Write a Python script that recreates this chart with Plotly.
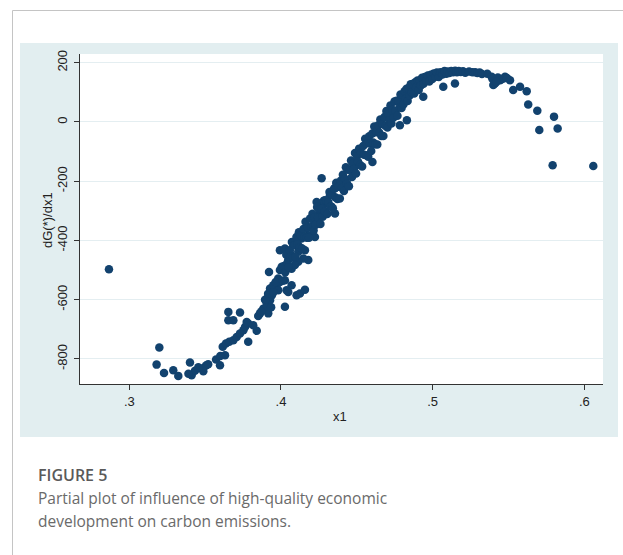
import plotly.graph_objects as go

# ---------------- data ----------------
# (x1, dG(*)/dx1) pairs, grouped by region of the curve
low_tail = [
    (0.2866, -497),
    (0.3198, -761), (0.3180, -819), (0.3229, -847), (0.3290, -838), (0.3323, -857),
    (0.3400, -812), (0.3411, -855), (0.3433, -840), (0.3477, -832), (0.3506, -822),
    (0.3488, -841), (0.3572, -802), (0.3598, -821), (0.3616, -759), (0.3637, -748),
    (0.3631, -787), (0.3659, -742), (0.3686, -737), (0.3708, -726), (0.3730, -714),
    (0.3752, -703), (0.3784, -742), (0.3763, -692), (0.3784, -680), (0.3840, -705),
    (0.3653, -641), (0.3730, -643), (0.3653, -669), (0.3686, -669), (0.3774, -675),
    (0.3817, -686), (0.3862, -646), (0.3884, -630), (0.3906, -613), (0.3928, -602),
    (0.3940, -585), (0.3960, -568), (0.3972, -551), (0.3993, -540), (0.3916, -646),
    (0.4026, -624), (0.4037, -568), (0.4103, -585), (0.4070, -551), (0.3455, -828),
    (0.3520, -818), (0.3390, -850), (0.3600, -790), (0.3906, -624), (0.3916, -590),
    (0.3928, -562), (0.3949, -551), (0.3982, -528), (0.3982, -568), (0.4048, -574),
    (0.4125, -579), (0.4158, -566), (0.3921, -506), (0.3850, -655), (0.3870, -640),
    (0.3895, -600), (0.3915, -580), (0.3950, -575), (0.3965, -540), (0.3935, -625),
]

lower_band = [
    (0.3993, -433), (0.4026, -427), (0.4060, -444), (0.4114, -438), (0.4158, -433),
    (0.4180, -466), (0.4147, -461), (0.4114, -472), (0.4048, -466), (0.4026, -489),
    (0.3993, -500), (0.4070, -495), (0.4092, -483), (0.4026, -534), (0.4103, -405),
    (0.4081, -416), (0.4136, -393), (0.4180, -382), (0.4224, -388), (0.4169, -359),
    (0.4213, -348), (0.4235, -331), (0.4257, -309), (0.4356, -309), (0.4334, -286),
    (0.4279, -281), (0.4235, -270), (0.4290, -264), (0.4323, -247), (0.4356, -224),
    (0.4367, -207), (0.4268, -190),
    (0.4005, -489), (0.4012, -536), (0.4020, -486), (0.4028, -507), (0.4035, -448),
    (0.4042, -475), (0.4050, -490), (0.4058, -433), (0.4065, -456), (0.4072, -405),
    (0.4080, -458), (0.4088, -416), (0.4095, -455), (0.4102, -388), (0.4110, -413),
    (0.4118, -372), (0.4125, -423), (0.4132, -383), (0.4140, -427), (0.4148, -361),
    (0.4155, -387), (0.4162, -337), (0.4170, -391), (0.4178, -355), (0.4185, -391),
    (0.4192, -326), (0.4200, -355), (0.4208, -310), (0.4215, -366), (0.4222, -322),
    (0.4230, -347), (0.4238, -287), (0.4245, -323), (0.4252, -294), (0.4260, -344),
    (0.4268, -294), (0.4275, -320), (0.4282, -266), (0.4290, -301), (0.4298, -266),
    (0.4305, -311), (0.4312, -271), (0.4320, -236), (0.4328, -285), (0.4335, -245),
    (0.4342, -291), (0.4350, -225), (0.4358, -254), (0.4365, -205), (0.4372, -260),
    (0.4380, -219), (0.4388, -258), (0.4395, -198),
]

middle_band = [
    (0.4402, -223), (0.4408, -178), (0.4415, -233), (0.4422, -192), (0.4428, -153),
    (0.4435, -207), (0.4442, -161), (0.4448, -217), (0.4455, -161), (0.4462, -130),
    (0.4468, -186), (0.4475, -140), (0.4482, -159), (0.4488, -105), (0.4495, -174),
    (0.4502, -114), (0.4508, -134), (0.4515, -90), (0.4522, -145), (0.4528, -105),
    (0.4535, -150), (0.4542, -81), (0.4548, -111), (0.4555, -57), (0.4562, -112),
    (0.4568, -72), (0.4575, -117), (0.4582, -48), (0.4588, -73), (0.4595, -98),
    (0.4602, -39), (0.4608, -69), (0.4615, -15), (0.4622, -75), (0.4628, -35),
    (0.4635, -76), (0.4642, -11), (0.4648, -36), (0.4655, 8), (0.4662, -47),
    (0.4668, -7), (0.4675, -47), (0.4682, 17), (0.4688, -13), (0.4695, 37),
    (0.4603, -135),
]

upper_band = [
    (0.4702, -19), (0.4708, 26), (0.4715, 6), (0.4722, 56), (0.4728, -5),
    (0.4735, 40), (0.4742, 15), (0.4748, 69), (0.4755, 38), (0.4762, 72),
    (0.4768, 21), (0.4775, 70), (0.4782, 49), (0.4788, 93), (0.4795, 47),
    (0.4802, 91), (0.4808, 60), (0.4815, 104), (0.4822, 78), (0.4828, 112),
    (0.4835, 71), (0.4842, 115), (0.4848, 89), (0.4855, 127), (0.4862, 100),
    (0.4870, 128), (0.4878, 96), (0.4885, 134), (0.4892, 117), (0.4900, 140),
    (0.4908, 108), (0.4915, 140), (0.4922, 123), (0.4930, 149), (0.4940, 129),
    (0.4948, 152), (0.4958, 140), (0.4968, 157), (0.4978, 137), (0.4988, 159),
    (0.4998, 145), (0.5008, 164), (0.5018, 153), (0.5028, 167), (0.5040, 152),
    (0.5052, 168), (0.5065, 160), (0.5078, 172), (0.5090, 163),
    (0.4784, -11), (0.4830, 6), (0.4938, 85), (0.5070, 119), (0.5147, 130),
]

peak = [
    (0.5100, 170), (0.5110, 165), (0.5122, 172), (0.5135, 168), (0.5148, 173),
    (0.5160, 168), (0.5172, 172), (0.5185, 169), (0.5200, 171), (0.5215, 166),
    (0.5240, 170), (0.5262, 168), (0.5280, 168), (0.5295, 165), (0.5310, 167),
    (0.5325, 162), (0.5360, 163),
]

decline = [
    (0.5389, 153), (0.5410, 130), (0.5444, 141), (0.5477, 153), (0.5510, 141),
    (0.5400, 125), (0.5395, 145), (0.5430, 150), (0.5460, 145), (0.5420, 135),
    (0.5490, 148), (0.5531, 108), (0.5576, 119), (0.5620, 104), (0.5630, 59),
    (0.5690, 38), (0.5800, 18), (0.5703, -27), (0.5824, -22), (0.5791, -146),
    (0.6059, -149),
]

x_tick_values = [0.3, 0.4, 0.5, 0.6]
x_tick_labels = [".3", ".4", ".5", ".6"]
y_tick_values = [200, 0, -200, -400, -600, -800]
y_tick_labels = ["200", "0", "-200", "-400", "-600", "-800"]

caption_label = "FIGURE 5"
caption_line1 = "Partial plot of influence of high-quality economic"
caption_line2 = "development on carbon emissions."

# ---------------- figure ----------------
all_points = low_tail + lower_band + middle_band + upper_band + peak + decline
x1 = [p[0] for p in all_points]
dg = [p[1] for p in all_points]

W, H = 623, 555
L, R, T, B = 80, 603, 54, 384   # plot-area pixel box


def px(xp):
    return (xp - L) / (R - L)


def py(yp):
    return (B - yp) / (B - T)


fig = go.Figure(
    go.Scatter(
        x=x1, y=dg, mode="markers",
        marker=dict(size=8.5, color="#12426e", line=dict(width=0)),
        hoverinfo="skip", showlegend=False,
    )
)

axis_font = dict(family="Liberation Sans, Arial, sans-serif", size=13, color="#222222")

fig.update_layout(
    width=W, height=H, autosize=False,
    margin=dict(l=L, r=W - R, t=T, b=H - B, pad=0),
    paper_bgcolor="white", plot_bgcolor="white",
    showlegend=False,
    xaxis=dict(
        range=[0.2675, 0.6123], showgrid=False, zeroline=False,
        showline=True, linecolor="#333333", linewidth=1,
        ticks="outside", ticklen=5, tickwidth=1, tickcolor="#333333",
        tickvals=x_tick_values, ticktext=x_tick_labels, tickfont=axis_font,
    ),
    yaxis=dict(
        range=[-884.4, 229.4], showgrid=True, gridcolor="#e4eef1", gridwidth=1,
        zeroline=False, showline=True, linecolor="#333333", linewidth=1,
        ticks="outside", ticklen=5, tickwidth=1, tickcolor="#333333",
        tickvals=y_tick_values, ticktext=y_tick_labels, tickangle=-90,
        tickfont=axis_font, ticklabelstandoff=2,
    ),
    shapes=[
        # card border
        dict(type="rect", xref="paper", yref="paper", layer="below",
             x0=px(12.5), x1=px(700), y0=py(700), y1=py(10.5),
             line=dict(color="#c4c4c4", width=1), fillcolor="rgba(0,0,0,0)"),
        # graph region (light bluish gray)
        dict(type="rect", xref="paper", yref="paper", layer="below",
             x0=px(20), x1=px(618), y0=py(437), y1=py(43),
             line=dict(width=0), fillcolor="#e2eef0"),
        # white plot region
        dict(type="rect", xref="paper", yref="paper", layer="below",
             x0=0, x1=1, y0=0, y1=1,
             line=dict(width=0), fillcolor="white"),
    ],
    annotations=[
        dict(text="dG(*)/dx1", xref="paper", yref="paper", x=px(47), y=py(220),
             textangle=-90, showarrow=False, xanchor="center", yanchor="middle",
             font=axis_font),
        dict(text="x1", xref="paper", yref="paper", x=px(340), y=py(416),
             showarrow=False, xanchor="center", yanchor="middle", font=axis_font),
        dict(text=caption_label, xref="paper", yref="paper", x=px(36), y=py(475),
             showarrow=False, xanchor="left", yanchor="middle",
             font=dict(family="Open Sans, sans-serif", size=16, color="#5a5a5a", weight=600)),
        dict(text=caption_line1, xref="paper", yref="paper", x=px(36), y=py(498),
             showarrow=False, xanchor="left", yanchor="middle",
             font=dict(family="Open Sans, sans-serif", size=15.5, color="#6a6a6a")),
        dict(text=caption_line2, xref="paper", yref="paper", x=px(36), y=py(521),
             showarrow=False, xanchor="left", yanchor="middle",
             font=dict(family="Open Sans, sans-serif", size=15.5, color="#6a6a6a")),
    ],
)

fig.write_html("out.html")
